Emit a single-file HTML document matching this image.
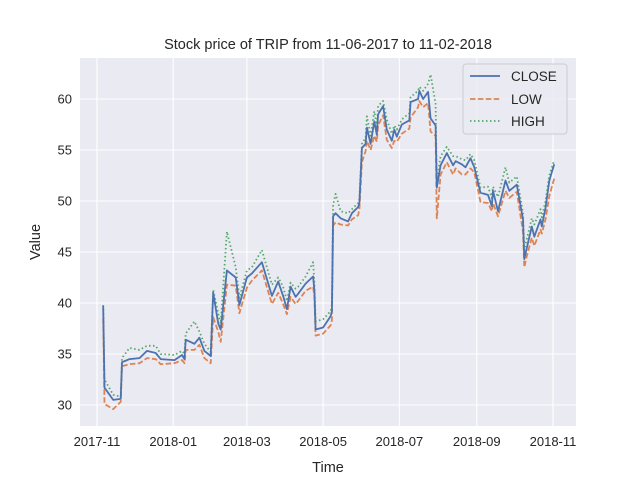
<!DOCTYPE html>
<html><head><meta charset="utf-8"><style>
body{margin:0;background:#fff;font-family:"Liberation Sans","DejaVu Sans",sans-serif}
svg text{font-family:"Liberation Sans","DejaVu Sans",sans-serif;fill:#262626}
</style></head><body>
<svg id="chart" width="640" height="480" viewBox="0 0 640 480" xmlns="http://www.w3.org/2000/svg">
<rect x="0" y="0" width="640" height="480" fill="#fff"/>
<rect x="80" y="58" width="496" height="368" fill="#eaeaf2"/>
<g id="grid"></g><g id="series"></g><g id="ticks"></g>
<text x="328" y="49" font-size="14.5" text-anchor="middle">Stock price of TRIP from 11-06-2017 to 11-02-2018</text>
<text x="328" y="472" font-size="14.5" text-anchor="middle">Time</text>
<text x="0" y="0" font-size="14.5" text-anchor="middle" transform="translate(40,242) rotate(-90)">Value</text>
<g>
<rect x="463" y="64" width="104" height="70" rx="3" fill="#eaeaf2" fill-opacity="0.8" stroke="#cccccc"/>
<line x1="470" y1="76" x2="500" y2="76" stroke="#4c72b0" stroke-width="1.8"/>
<text x="511" y="81" font-size="13.5">CLOSE</text>
<line x1="470" y1="99" x2="500" y2="99" stroke="#dd8452" stroke-width="1.8" stroke-dasharray="5.5,2.4"/>
<text x="511" y="104" font-size="13.5">LOW</text>
<line x1="470" y1="121" x2="500" y2="121" stroke="#55a868" stroke-width="1.8" stroke-dasharray="1.5,2.5"/>
<text x="511" y="126" font-size="13.5">HIGH</text>
</g>
</svg>
<script>
const dates=["2017-11-06","2017-11-07","2017-11-14","2017-11-20","2017-11-21","2017-11-27","2017-12-05","2017-12-11","2017-12-18","2017-12-22","2018-01-02","2018-01-08","2018-01-10","2018-01-11","2018-01-18","2018-01-22","2018-01-26","2018-01-31","2018-02-02","2018-02-06","2018-02-08","2018-02-13","2018-02-20","2018-02-23","2018-03-01","2018-03-05","2018-03-13","2018-03-21","2018-03-26","2018-03-30","2018-04-02","2018-04-05","2018-04-09","2018-04-11","2018-04-17","2018-04-23","2018-04-24","2018-04-25","2018-05-01","2018-05-07","2018-05-08","2018-05-09","2018-05-11","2018-05-15","2018-05-21","2018-05-24","2018-05-29","2018-05-30","2018-06-01","2018-06-04","2018-06-05","2018-06-08","2018-06-11","2018-06-13","2018-06-14","2018-06-18","2018-06-21","2018-06-25","2018-06-27","2018-06-29","2018-07-03","2018-07-09","2018-07-10","2018-07-16","2018-07-17","2018-07-20","2018-07-24","2018-07-26","2018-07-30","2018-07-31","2018-08-03","2018-08-08","2018-08-13","2018-08-15","2018-08-20","2018-08-23","2018-08-27","2018-08-30","2018-09-04","2018-09-10","2018-09-13","2018-09-14","2018-09-18","2018-09-24","2018-09-27","2018-10-03","2018-10-08","2018-10-09","2018-10-11","2018-10-15","2018-10-17","2018-10-22","2018-10-23","2018-10-26","2018-10-29","2018-11-02"];
const closeVals=[39.7,31.7,30.5,30.6,34.2,34.5,34.6,35.3,35.1,34.5,34.4,34.9,34.5,36.4,36.0,36.6,35.3,34.8,41.0,38.0,37.4,43.2,42.5,39.8,42.5,42.9,44.0,40.7,42.1,40.7,39.4,41.6,40.6,40.9,41.9,42.6,41.2,37.4,37.6,38.7,39.2,48.5,48.8,48.3,48.0,48.8,49.4,49.8,55.2,55.6,57.2,55.6,57.8,56.5,58.5,59.3,57.0,55.9,57.0,56.3,57.5,57.9,59.7,60.0,60.8,60.0,60.7,58.1,57.4,51.3,53.5,54.7,53.5,53.9,53.6,53.3,54.2,53.3,50.8,50.6,49.5,51.0,49.0,52.0,51.0,51.6,48.2,44.3,45.4,47.5,46.5,48.2,47.5,49.3,52.0,53.6];
const lowVals=[38.5,30.1,29.6,30.3,33.8,34.0,34.1,34.6,34.5,34.0,34.1,34.4,34.1,35.4,35.4,35.9,34.6,34.1,38.6,37.2,36.2,41.8,41.7,39.0,41.5,42.2,43.2,39.9,41.0,39.9,38.9,40.6,39.9,40.2,41.2,41.6,40.6,36.8,37.0,37.8,38.3,47.6,47.9,47.7,47.6,48.2,48.6,49.2,53.8,54.9,55.9,55.0,56.4,55.8,57.4,58.4,56.0,55.2,55.9,55.8,56.6,57.1,58.2,59.2,59.8,59.2,59.6,56.8,56.4,48.3,52.6,53.8,52.6,53.2,52.6,52.6,53.2,52.8,49.9,49.8,49.0,49.8,48.5,51.0,50.3,50.9,47.0,43.5,44.6,46.4,45.6,47.2,46.8,48.2,50.5,52.2];
const highVals=[39.8,32.5,31.0,30.8,34.6,35.6,35.4,35.8,35.8,35.0,34.9,35.3,35.0,37.0,38.2,37.2,36.0,35.2,41.3,39.0,38.0,47.0,43.5,40.5,43.2,43.5,45.2,41.8,42.5,41.6,40.2,42.0,41.4,41.6,42.6,44.0,42.0,38.2,38.4,39.2,39.8,49.6,50.7,49.0,48.8,49.2,49.8,50.2,55.6,56.2,58.3,56.4,58.8,57.3,59.3,59.8,58.0,56.6,57.4,57.0,58.0,58.6,60.2,60.8,61.2,60.8,61.5,62.4,59.5,52.0,54.4,55.3,54.4,54.4,54.1,54.0,54.6,54.0,51.3,51.4,50.3,51.4,50.4,53.3,51.8,52.4,48.8,45.2,46.3,48.3,47.7,49.2,48.4,50.0,52.5,54.0];
const xTicks=["2017-11-01","2018-01-01","2018-03-01","2018-05-01","2018-07-01","2018-09-01","2018-11-01"];
const xTickLabels=["2017-11","2018-01","2018-03","2018-05","2018-07","2018-09","2018-11"];
const yTicks=[30,35,40,45,50,55,60];

const NS="http://www.w3.org/2000/svg";
const t0=Date.UTC(2017,10,1),t1=Date.UTC(2018,10,1);
function tms(s){const p=s.split("-");return Date.UTC(+p[0],+p[1]-1,+p[2]);}
function xs(s){return 97+(tms(s)-t0)/(t1-t0)*456;}
function ys(v){return 405-(v-30)*10.2;}
function mk(tag,attrs,parent){const e=document.createElementNS(NS,tag);for(const k in attrs)e.setAttribute(k,attrs[k]);parent.appendChild(e);return e;}
const grid=document.getElementById("grid"),ticks=document.getElementById("ticks"),ser=document.getElementById("series");
xTicks.forEach((d,i)=>{const x=xs(d);
 const g=mk("line",{x1:x,x2:x,y1:58,y2:426,stroke:"#fff","stroke-width":1.1},grid);
 
 
 const t=mk("text",{x:x,y:446,"font-size":13,"text-anchor":"middle"},ticks);t.textContent=xTickLabels[i];
 
 });
yTicks.forEach(v=>{const y=ys(v);
 const g=mk("line",{x1:80,x2:576,y1:y,y2:y,stroke:"#fff","stroke-width":1.1},grid);
 
 
 const t=mk("text",{x:72,y:y+4.5,"font-size":13,"text-anchor":"end"},ticks);t.textContent=v;
 
 });
function line(vals,color,dash,name){
 const d=vals.map((v,i)=>(i?"L":"M")+xs(dates[i]).toFixed(1)+","+ys(v).toFixed(1)).join("");
 const p=mk("path",{d:d,fill:"none",stroke:color,"stroke-width":1.8,"stroke-linejoin":"round"},ser);
 if(dash)p.setAttribute("stroke-dasharray",dash);
 
 }
line(lowVals,"#dd8452","5.5,2.4","low-line");
line(highVals,"#55a868","1.5,2.5","high-line");
line(closeVals,"#4c72b0",null,"close-line");
</script>
</body></html>
